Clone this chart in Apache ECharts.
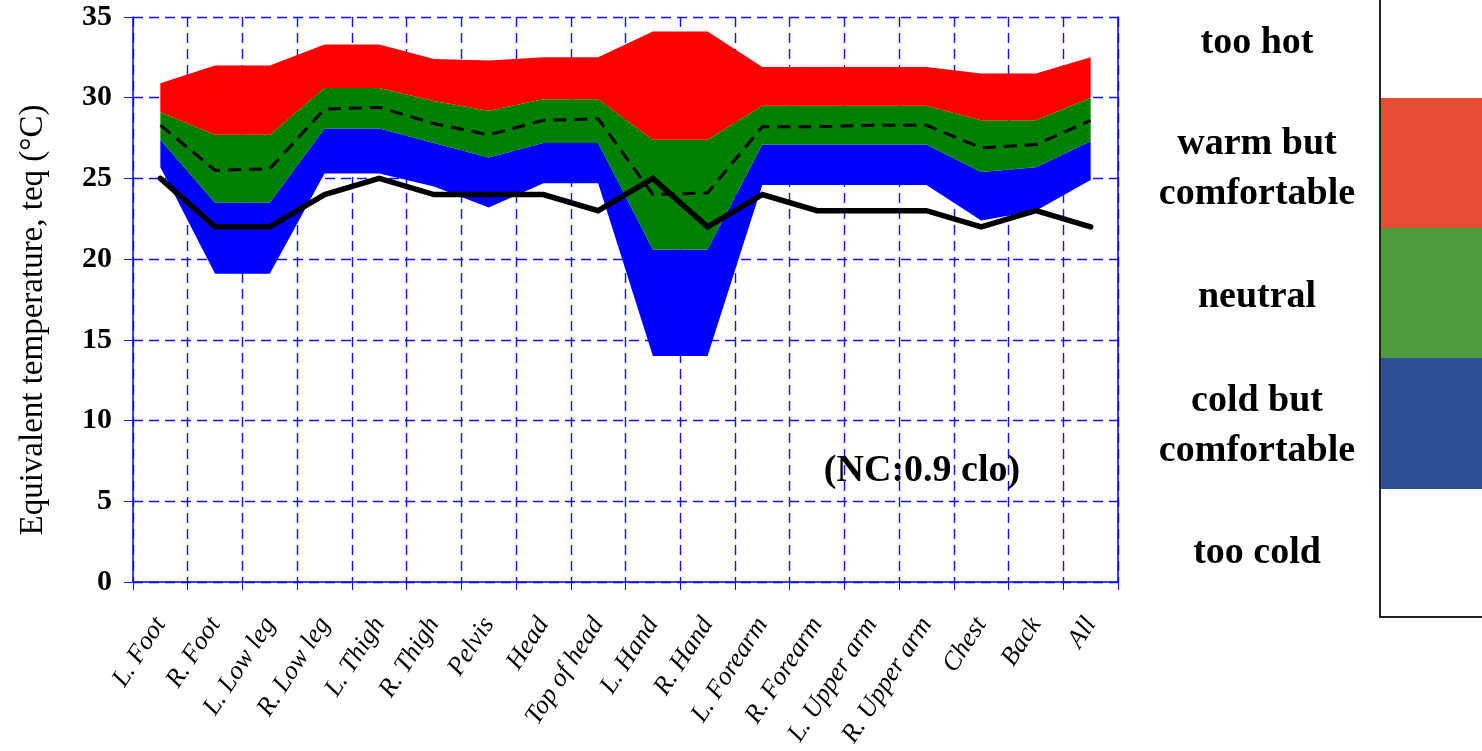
<!DOCTYPE html>
<html>
<head>
<meta charset="utf-8">
<script src="https://cdn.jsdelivr.net/npm/echarts@6/dist/echarts.min.js"></script>
<style>
html,body{margin:0;padding:0;background:#fff;}
#chart{width:1482px;height:751px;}
</style>
</head>
<body>
<div id="chart"></div>
<script>
var categories = ['L. Foot','R. Foot','L. Low leg','R. Low leg','L. Thigh','R. Thigh','Pelvis','Head','Top of head','L. Hand','R. Hand','L. Forearm','R. Forearm','L. Upper arm','R. Upper arm','Chest','Back','All'];
var tooColdLimit = [25.7, 19.1, 19.1, 25.3, 25.3, 24.5, 23.2, 24.7, 24.7, 14.0, 14.0, 24.6, 24.6, 24.6, 24.6, 22.4, 23.0, 24.9];
var coldLimit    = [27.4, 23.5, 23.5, 28.1, 28.1, 27.2, 26.3, 27.2, 27.2, 20.6, 20.6, 27.1, 27.1, 27.1, 27.1, 25.4, 25.7, 27.3];
var warmLimit    = [29.1, 27.7, 27.7, 30.6, 30.6, 29.8, 29.2, 29.9, 29.9, 27.4, 27.4, 29.5, 29.5, 29.5, 29.5, 28.6, 28.6, 30.0];
var hotLimit     = [30.9, 32.0, 32.0, 33.3, 33.3, 32.4, 32.3, 32.5, 32.5, 34.1, 34.1, 31.9, 31.9, 31.9, 31.9, 31.5, 31.5, 32.5];
var neutral      = [28.3, 25.5, 25.6, 29.3, 29.4, 28.4, 27.7, 28.6, 28.7, 24.0, 24.1, 28.2, 28.2, 28.3, 28.3, 26.9, 27.1, 28.6];
var measured     = [25, 22, 22, 24, 25, 24, 24, 24, 23, 25, 22, 24, 23, 23, 23, 22, 23, 22];
var yTicks = [0, 5, 10, 15, 20, 25, 30, 35];
var zoneLabels = ['too hot', 'warm but\ncomfortable', 'neutral', 'cold but\ncomfortable', 'too cold'];
var annotation = '(NC:0.9 clo)';
var yAxisTitle = 'Equivalent temperature, teq (\u00B0C)';

function diff(a, b) { return a.map(function (v, i) { return +(v - b[i]).toFixed(3); }); }

var serif = "'Liberation Serif', 'Times New Roman', serif";
var gridBlue = '#1010ff';

var chart = echarts.init(document.getElementById('chart'), null, {renderer: 'canvas'});

function areaSeries(name, data, color) {
  return {
    name: name, type: 'line', stack: 'zones', data: data,
    symbol: 'none', silent: true,
    lineStyle: {width: 0, opacity: 0},
    areaStyle: {color: color, opacity: color ? 1 : 0},
    z: 2
  };
}

var graphics = [
  {type: 'rect', shape: {x: 1380, y: -5, width: 120, height: 622}, style: {fill: '#fff', stroke: '#222', lineWidth: 2}, z: 10},
  {type: 'rect', shape: {x: 1381, y: 98, width: 110, height: 130}, style: {fill: '#E54D32'}, z: 11},
  {type: 'rect', shape: {x: 1381, y: 228, width: 110, height: 130}, style: {fill: '#4E9A3F'}, z: 11},
  {type: 'rect', shape: {x: 1381, y: 358, width: 110, height: 131}, style: {fill: '#2E4F96'}, z: 11}
];
var labelY = [[43], [144, 194], [297], [401, 451], [553]];
zoneLabels.forEach(function (lbl, i) {
  lbl.split('\n').forEach(function (line, j) {
    graphics.push({type: 'text', x: 1257, y: labelY[i][j], z: 12,
      style: {text: line, fill: '#000', font: 'bold 38px ' + serif, align: 'center', verticalAlign: 'middle'}});
  });
});
graphics.push({type: 'text', x: 922, y: 471, z: 1,
  style: {text: annotation, fill: '#000', font: 'bold 38px ' + serif, align: 'center', verticalAlign: 'middle'}});
graphics.push({type: 'text', x: 33, y: 320, rotation: Math.PI / 2, z: 1,
  style: {text: yAxisTitle, fill: '#000', font: '33px ' + serif, align: 'center', verticalAlign: 'middle'}});

var option = {
  animation: false,
  backgroundColor: '#fff',
  grid: {left: 133, right: 364, top: 17, bottom: 169, containLabel: false},
  xAxis: {
    type: 'category', data: categories, boundaryGap: true,
    axisLine: {lineStyle: {color: '#0000ff', width: 1.5}},
    axisTick: {show: true, interval: 0, length: 8, lineStyle: {color: gridBlue}},
    axisLabel: {interval: 0, rotate: 57, margin: 38, color: '#000', fontFamily: serif, fontStyle: 'italic', fontSize: 26},
    splitLine: {show: true, interval: 0, lineStyle: {color: gridBlue, type: [10, 6], width: 1.4}}
  },
  yAxis: [{
    type: 'value', min: yTicks[0], max: yTicks[yTicks.length - 1], interval: yTicks[1] - yTicks[0],
    axisLine: {show: true, lineStyle: {color: '#0000ff', width: 1.5}},
    axisTick: {show: true, length: 9, lineStyle: {color: gridBlue}},
    axisLabel: {margin: 21, color: '#000', fontFamily: serif, fontWeight: 'bold', fontSize: 30},
    splitLine: {show: true, lineStyle: {color: gridBlue, type: [10, 6], width: 1.4}}
  }, {
    type: 'value', position: 'right', min: 0, max: 35, interval: 5,
    axisLine: {show: true, lineStyle: {color: '#0000ff', width: 1.5}},
    axisTick: {show: false}, axisLabel: {show: false}, splitLine: {show: false}
  }],
  graphic: graphics,
  series: [
    areaSeries('base', tooColdLimit, null),
    areaSeries('cold but comfortable', diff(coldLimit, tooColdLimit), '#0000ff'),
    areaSeries('neutral', diff(warmLimit, coldLimit), '#008000'),
    areaSeries('warm but comfortable', diff(hotLimit, warmLimit), '#ff0000'),
    {name: 'neutral temperature', type: 'line', data: neutral, symbol: 'none', silent: true, z: 4,
     lineStyle: {color: '#000', width: 3, type: [13, 8]}},
    {name: 'measured', type: 'line', data: measured, symbol: 'none', silent: true, z: 5,
     lineStyle: {color: '#000', width: 5.5, cap: 'round', join: 'miter'}}
  ]
};
chart.setOption(option);
</script>
</body>
</html>
